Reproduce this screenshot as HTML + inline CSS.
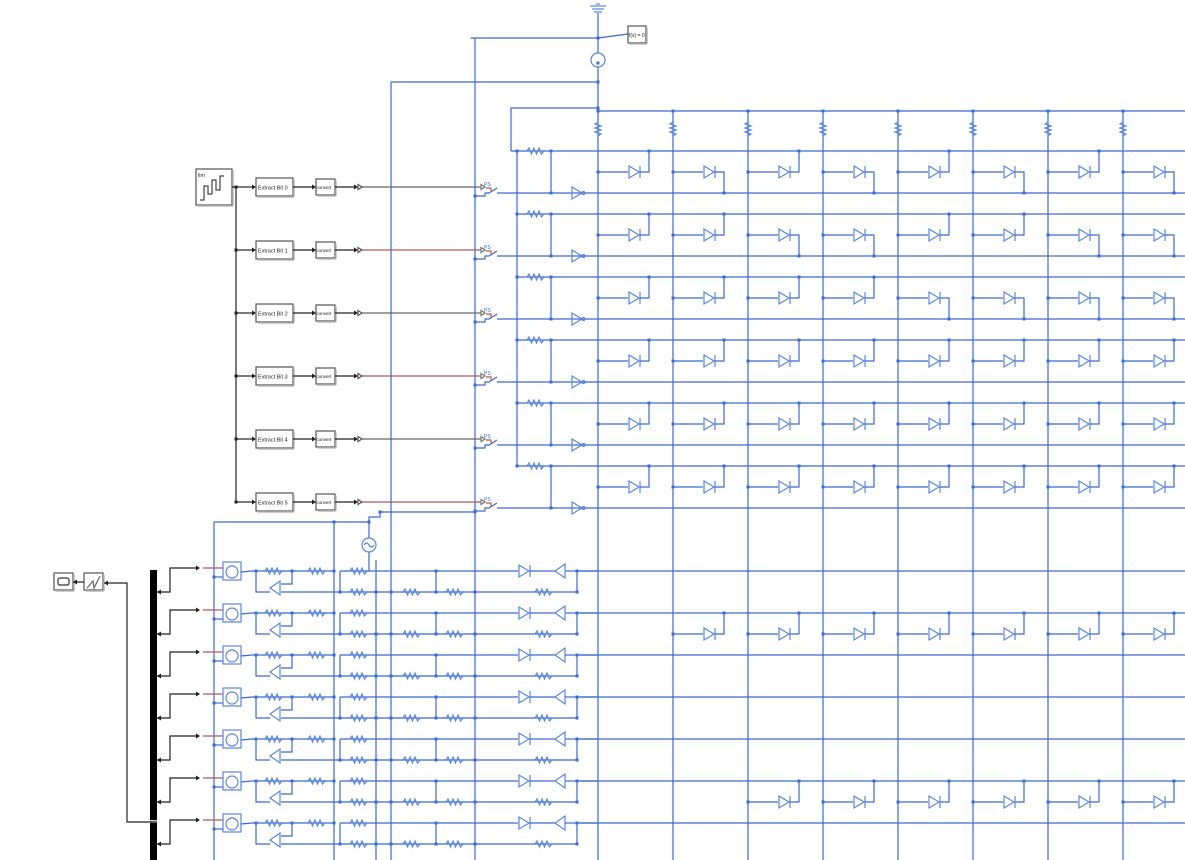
<!DOCTYPE html>
<html><head><meta charset="utf-8"><style>
html,body{margin:0;padding:0;background:#fff;}
svg{display:block;}
text{font-family:"Liberation Sans",sans-serif;}
</style></head><body>
<svg id="s" width="1185" height="860" xmlns="http://www.w3.org/2000/svg">
<g id="g" fill="none" stroke-width="1.2"></g>
<g font-size="5.5" fill="#222">
<text x="198" y="177">lim</text>
<text x="258" y="189.5">Extract Bit 0</text>
<text x="258" y="252.5">Extract Bit 1</text>
<text x="258" y="315.5">Extract Bit 2</text>
<text x="258" y="378.5">Extract Bit 3</text>
<text x="258" y="441.5">Extract Bit 4</text>
<text x="258" y="504.5">Extract Bit 5</text>
<text x="316.5" y="189" font-size="4.5">convert</text>
<text x="316.5" y="252" font-size="4.5">convert</text>
<text x="316.5" y="315" font-size="4.5">convert</text>
<text x="316.5" y="378" font-size="4.5">convert</text>
<text x="316.5" y="441" font-size="4.5">convert</text>
<text x="316.5" y="504" font-size="4.5">convert</text>
<text x="629" y="37" font-size="5">f(x) = 0</text>
</g>
<g font-size="5" fill="#3b6bd0">
<text x="484" y="186">PS</text>
<text x="484" y="249">PS</text>
<text x="484" y="312">PS</text>
<text x="484" y="375">PS</text>
<text x="484" y="438">PS</text>
<text x="484" y="501">PS</text>
</g>
</svg>
<script>
const g=document.getElementById('g');
const B='#3b6bd0',D='#5b86dd',K='#222';
let h='';
function L(pts,c){h+=`<polyline points="${pts}" stroke="${c||B}"/>`;}
function l(x1,y1,x2,y2,c){L(`${x1},${y1} ${x2},${y2}`,c);}
function N(x,y,c){h+=`<rect x="${x-1.5}" y="${y-1.5}" width="3" height="3" fill="${c||B}" stroke="none"/>`;}
function R(x,y){let p=`${x},${y}`;for(let i=0;i<6;i++)p+=` ${x+2+i*2.5},${y+(i%2?3:-3)}`;p+=` ${x+17},${y}`;L(p,D);}
function RV(x,y){let p=`${x},${y}`;for(let i=0;i<6;i++)p+=` ${x+(i%2?3:-3)},${y+2+i*2}`;p+=` ${x},${y+14}`;L(p,D);}
function di(x,y){h+=`<polygon points="${x},${y-6} ${x+10},${y} ${x},${y+6}" stroke="${D}"/>`;l(x+11,y-6,x+11,y+6,D);}
function tl(x,y){h+=`<polygon points="${x},${y} ${x+10},${y-7} ${x+10},${y+7}" stroke="${D}"/>`;}
function tr(x,y,c){h+=`<polygon points="${x},${y-6} ${x+10},${y} ${x},${y+6}" stroke="${c||D}"/><circle cx="${x+11.5}" cy="${y}" r="1.5" stroke="${c||D}"/>`;}
function box(x,y,w,hh,c){h+=`<rect x="${x}" y="${y}" width="${w}" height="${hh}" stroke="${c||'#555'}" fill="#fff"/>`;h+=`<line x1="${x+1.5}" y1="${y+hh+1}" x2="${x+w+1}" y2="${y+hh+1}" stroke="#bbb" stroke-width="1.5"/><line x1="${x+w+1}" y1="${y+1.5}" x2="${x+w+1}" y2="${y+hh+1}" stroke="#bbb" stroke-width="1.5"/>`;}
function arr(x,y,c){h+=`<polygon points="${x},${y} ${x-4},${y-2.5} ${x-4},${y+2.5}" fill="${c||K}" stroke="none"/>`;}
function arl(x,y,c){h+=`<polygon points="${x},${y} ${x+4},${y-2.5} ${x+4},${y+2.5}" fill="${c||K}" stroke="none"/>`;}
const cols=[598,673,748,823,898,973,1048,1123];
h+=`<g stroke="${D}"><line x1="590" y1="6" x2="606" y2="6"/><line x1="592" y1="9" x2="604" y2="9"/><line x1="594" y1="12" x2="602" y2="12"/><line x1="596" y1="4" x2="600" y2="4"/></g>`;
l(598,13,598,860);
h+=`<circle cx="598" cy="60" r="7" stroke="${D}" fill="#fff"/>`;N(598,63);
l(598,38,628,34);box(628,26,18,17);
l(470.5,38,598,38);l(475,38,475,860);N(598,38);
l(391,82,598,82);l(391,82,391,860);N(598,82);
L('511,151 511,108 598,108');N(598,108);l(598,111,1185,111);N(598,111);
for(const c of cols){if(c>598)l(c,111,c,860);RV(c,122);}
for(const c of cols){if(c>598)N(c,111);}
for(let i=0;i<6;i++){
 const yt=151+63*i,yd=172+63*i,yb=193+63*i;
 l(i?517:511,yt,1185,yt);N(517,yt);R(527,yt);N(551,yt);l(551,yt,551,yb);N(551,yb);
 l(497,yb,1185,yb);tr(572,yb);
 cols.forEach((c,j)=>{N(c,yd);l(c,yd,c+30,yd);di(c+31,yd);const down=(i<3)&&((j>>i)&1);
  if(down){L(`${c+42},${yd} ${c+51},${yd} ${c+51},${yb}`);N(c+51,yb);}else{L(`${c+42},${yd} ${c+51},${yd} ${c+51},${yt}`);N(c+51,yt);}});
 const yr=187+63*i;const rc=i%2?'#b05a5a':'#666';
 l(362,yr,481,yr,rc);h+=`<polygon points="481,${yr-2.5} 485,${yr} 481,${yr+2.5}" stroke="#777"/>`;
 L(`475,${yb+3} 485,${yb+3} 485,${yb} 489,${yb} 497,${yb-5}`);N(475,yb+3);
 L(`486,${yr+1} 491,${yr+1} 491,${yb-1}`,'#b05a5a');
 N(236,yr,K);l(236,yr,252,yr,K);arr(256,yr);box(256,178+63*i,37,18);
 l(293,yr,312,yr,K);arr(316,yr);box(316,179+63*i,19,16);
 l(335,yr,354,yr,K);arr(358,yr);h+=`<polygon points="358,${yr-2.5} 362,${yr} 358,${yr+2.5}" stroke="#555" fill="#fff"/>`;
}
l(517,151,517,466);
box(196,169,36,36);L('200,200 204,200 204,186 208,186 208,194 212,194 212,180 216,180 216,190 220,190 220,176 224,176','#444');
l(232,187,236,187,K);l(236,187,236,502,K);
l(214,522,214,860);l(214,522,369,522);N(334,522);N(369,522);l(334,522,334,860);
L('369,522 369,517 380,517 380,512 475,512');N(475,512);N(380,512);
l(369,522,369,571);h+=`<circle cx="369" cy="545" r="7" stroke="${D}" fill="#fff"/><path d="M364,545 q2.5,-4 5,0 q2.5,4 5,0" stroke="${D}"/>`;
l(376,560,376,860);
h+=`<rect x="150" y="570" width="7" height="290" fill="#000"/>`;
h+=`<rect x="150" y="820" width="7" height="3" fill="#ccc"/>`;
box(54,573,19,17,'#555');h+=`<rect x="58" y="578" width="11" height="7" rx="2" stroke="#333"/>`;
box(84,573,19,17,'#555');L('87,588 93,581 94,588 100,576','#666');
l(73,582,84,582,K);arl(73,582);L('157,822 127,822 127,583 104,583',K);arl(104,583);
for(let k=0;k<7;k++){
 const y=571+42*k,y2=y+21;
 L(`157,${y2} 170,${y2} 170,${y-3} 196,${y-3}`,K);arl(157,y2);arr(200,y-3);
 l(203,y-3,223,y-3,'#b05a5a');
 h+=`<rect x="223" y="${y-9}" width="18" height="18" stroke="${D}" fill="#fff"/><circle cx="232" cy="${y+1}" r="6" stroke="${D}"/>`;
 l(214,y+6,223,y+6);N(214,y+6);
 L(`241,${y+1} 252,${y} 256,${y}`);N(256,y);l(256,y,334,y);R(265,y);N(292,y);R(308,y);N(334,y);
 L(`256,${y} 256,${y2} 270,${y2}`);tl(270,y+17);L(`292,${y} 292,${y+13} 281,${y+13}`);l(281,y2,340,y2);
 l(340,y,1185,y);l(340,y,340,y2);l(340,y2,577,y2);N(340,y2);R(350,y);R(350,y2);N(376,y2);N(391,y2);
 R(403,y2);N(436,y);N(436,y2);l(436,y,436,y2);R(446,y2);N(475,y2);R(535,y2);
 h+=`<rect x="500" y="${y-8}" width="80" height="16" fill="#fff" stroke="none"/>`;
 l(500,y,518,y);di(519,y);l(530,y,555,y);tl(555,y);l(565,y,577,y);l(577,y,577,y2);N(577,y);N(577,y2);
 l(577,y,598,y);
}
[[634,613,1],[802,781,2]].forEach(([yd,yt,st])=>{cols.forEach((c,j)=>{if(j<st)return;N(c,yd);l(c,yd,c+30,yd);di(c+31,yd);L(`${c+42},${yd} ${c+51},${yd} ${c+51},${yt}`);N(c+51,yt);});});
g.innerHTML=h;
</script>
</body></html>
